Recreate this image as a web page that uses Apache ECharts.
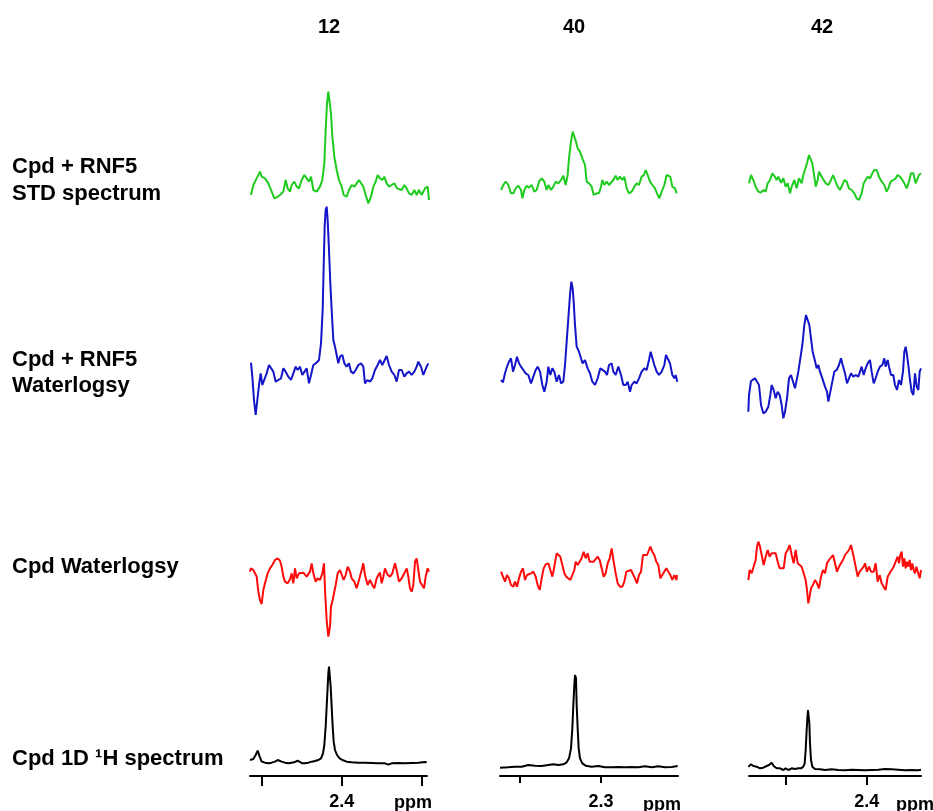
<!DOCTYPE html>
<html>
<head>
<meta charset="utf-8">
<script src="https://cdn.jsdelivr.net/npm/echarts@6/dist/echarts.min.js"></script>
<style>
html, body { margin: 0; background: #fff; }
#chart { width: 933px; height: 811px; }
</style>
</head>
<body>
<div id="chart"></div>
<script>
// compounds (columns) and experiments (rows)
const compounds = ['12', '40', '42'];
const rowLabels = [
    ['Cpd + RNF5', 'STD spectrum'],
    ['Cpd + RNF5', 'Waterlogsy'],
    ['Cpd Waterlogsy'],
    ['Cpd 1D \u00b9H spectrum']
];
const ppmTicks = [[2.5, 2.4, 2.3], [2.4, 2.3], [2.5, 2.4]];
const ppmLabels = [[2.4], [2.3], [2.4]];

// spectra as [point, intensity] pairs
const std12 = [[18,45],[25,75],[35,95],[45,115],[50,100],[60,95],[70,80],[80,55],[88,35],[95,38],[105,45],[115,55],[122,90],[128,65],[135,55],[140,75],[148,85],[155,70],[162,65],[170,90],[178,105],[185,95],[192,85],[198,100],[205,60],[215,55],[225,70],[232,90],[238,140],[242,240],[246,320],[250,355],[254,350],[258,290],[262,220],[268,160],[275,120],[282,90],[290,70],[296,45],[305,40],[312,60],[320,75],[328,70],[335,80],[342,90],[348,95],[355,70],[362,45],[370,20],[378,40],[385,70],[392,85],[398,105],[405,95],[412,90],[418,100],[425,80],[432,70],[440,75],[448,80],[456,65],[462,70],[470,60],[478,75],[485,65],[492,50],[500,45],[508,60],[515,45],[522,60],[530,45],[540,65],[548,70],[552,30]];
const std40 = [[18,60],[25,75],[32,85],[40,75],[48,50],[55,50],[62,65],[70,73],[78,60],[82,35],[88,60],[95,73],[102,67],[110,75],[118,55],[125,60],[132,85],[140,95],[148,85],[155,60],[160,75],[168,60],[175,70],[182,85],[190,80],[198,90],[205,103],[212,75],[218,105],[222,155],[228,205],[233,235],[238,240],[243,205],[248,185],[255,175],[262,155],[270,135],[275,85],[282,80],[290,70],[296,45],[305,50],[312,50],[318,70],[322,90],[328,75],[335,85],[342,75],[348,73],[355,90],[362,103],[368,90],[375,100],[382,90],[388,100],[395,65],[402,50],[410,55],[418,70],[425,80],[432,75],[440,100],[447,105],[452,120],[458,105],[465,85],[472,75],[480,65],[488,45],[493,35],[500,55],[508,75],[515,105],[520,110],[526,100],[532,70],[540,65],[545,50]];
const std42 = [[12,80],[18,105],[25,90],[32,70],[40,55],[48,52],[55,60],[62,55],[68,80],[75,90],[82,110],[88,102],[95,90],[100,100],[108,82],[115,95],[122,70],[128,80],[135,50],[140,70],[148,90],[155,65],[162,95],[170,80],[175,105],[180,110],[186,140],[192,165],[197,170],[202,140],[208,100],[212,70],[218,90],[222,115],[230,100],[236,105],[242,80],[250,75],[258,90],[264,105],[270,90],[278,70],[285,60],[292,75],[298,90],[305,85],[312,65],[320,60],[328,50],[335,35],[342,30],[350,50],[356,80],[362,85],[368,100],[375,95],[382,110],[388,120],[395,120],[402,100],[410,85],[418,75],[425,55],[430,65],[437,85],[445,90],[452,95],[458,105],[465,100],[472,90],[478,80],[485,65],[492,85],[498,110],[505,110],[512,80],[518,95],[522,105],[528,110]];

const wl12 = [[18,172],[22,130],[27,60],[32,15],[37,60],[42,105],[47,140],[52,105],[58,110],[65,140],[72,165],[78,160],[85,145],[92,115],[100,120],[108,125],[115,155],[122,145],[130,130],[138,120],[145,140],[152,160],[158,150],[165,160],[172,135],[178,140],[185,155],[192,110],[198,135],[205,165],[215,172],[222,180],[228,230],[233,330],[236,460],[239,580],[242,630],[245,640],[248,600],[252,510],[256,410],[260,330],[265,240],[270,220],[275,195],[280,170],[285,190],[292,195],[298,170],[305,160],[312,170],[318,145],[325,140],[332,150],[340,165],[348,170],[355,160],[360,110],[367,120],[375,115],[382,125],[390,150],[398,165],[405,180],[412,165],[418,170],[425,192],[432,165],[440,145],[448,135],[455,115],[462,150],[470,150],[478,130],[485,140],[492,145],[500,135],[508,145],[515,160],[520,175],[528,160],[535,135],[540,130],[545,160],[550,170]];
const wl40 = [[18,60],[24,53],[30,80],[36,100],[42,115],[48,125],[54,85],[60,105],[66,130],[72,110],[78,100],[85,90],[92,80],[100,75],[108,50],[115,70],[122,90],[128,100],[135,85],[142,45],[148,25],[155,55],[160,100],[166,75],[172,95],[178,85],[185,55],[192,75],[198,50],[205,55],[210,105],[215,175],[220,245],[225,315],[229,355],[233,335],[236,295],[240,225],[245,160],[252,145],[258,125],[263,110],[270,120],[278,95],[285,80],[292,55],[300,45],[308,65],[316,95],[322,100],[330,85],[336,75],[342,105],[350,110],[355,85],[362,75],[370,100],[378,75],[385,45],[392,45],[398,55],[405,25],[410,45],[418,55],[425,50],[432,65],[440,85],[448,95],[455,90],[462,120],[467,145],[472,140],[478,105],[485,85],[492,75],[500,85],[508,105],[513,135],[518,137],[525,110],[532,75],[538,65],[542,75],[547,55]];
const wl42 = [[10,40],[12,90],[18,132],[24,130],[30,140],[36,145],[42,120],[48,60],[55,35],[62,40],[70,55],[76,90],[80,120],[86,105],[92,80],[98,100],[104,90],[110,60],[115,20],[120,40],[126,80],[132,140],[138,150],[144,152],[150,110],[155,105],[160,160],[166,200],[172,240],[178,300],[183,330],[188,335],[193,300],[198,260],[203,220],[208,200],[215,170],[220,180],[225,160],[232,140],[240,115],[246,100],[250,70],[255,95],[262,130],[268,160],[275,165],[282,180],[288,200],[293,180],[300,155],[306,125],[312,140],[318,155],[325,145],[332,150],[340,145],[345,160],[350,175],[356,150],[362,170],[368,185],[375,195],[380,160],[386,125],[392,140],[398,160],[405,175],[412,180],[418,200],[422,175],[428,195],[432,175],[438,150],[445,150],[450,120],[456,105],[462,135],[468,120],[474,160],[478,220],[482,235],[486,210],[490,180],[495,135],[500,100],[505,90],[510,155],[515,115],[520,105],[524,160],[528,170]];

const cpdWl12 = [[15,220],[18,230],[25,225],[30,230],[35,205],[40,160],[45,135],[50,123],[55,165],[60,185],[68,215],[75,230],[82,240],[90,255],[98,260],[105,253],[110,235],[115,205],[120,190],[128,185],[135,197],[140,215],[145,185],[150,230],[155,200],[162,215],[168,210],[175,217],[180,220],[185,205],[190,210],[195,220],[200,245],[205,215],[212,190],[218,200],[225,195],[232,215],[237,245],[240,165],[245,75],[250,25],[255,55],[258,115],[263,135],[268,140],[272,180],[278,215],[285,225],[290,220],[296,195],[302,210],[308,235],[315,220],[320,200],[328,190],[335,170],[342,195],[350,225],[355,245],[360,210],[368,180],[375,195],[382,180],[388,170],[395,200],[400,210],[405,217],[410,185],[415,205],[420,230],[428,210],[435,205],[442,215],[450,245],[455,225],[462,190],[470,200],[478,215],[485,230],[490,205],[495,170],[500,160],[505,180],[510,250],[515,260],[520,225],[525,190],[530,195],[537,170],[542,205],[548,230],[552,220]];
const cpdWl40 = [[18,70],[24,75],[30,40],[36,60],[42,50],[48,30],[55,25],[60,40],[66,25],[72,50],[78,70],[84,80],[90,45],[96,60],[102,55],[108,65],[115,70],[122,55],[128,30],[134,15],[140,50],[146,80],[152,92],[160,95],[166,90],[172,55],[178,85],[185,125],[190,130],[196,115],[202,90],[208,65],[214,55],[220,60],[226,45],[232,40],[238,75],[242,100],[248,90],[254,95],[260,110],[266,130],[272,110],[278,125],[284,100],[290,105],[296,100],[302,100],[308,115],[314,105],[320,80],[326,55],[332,65],[338,95],[344,110],[350,140],[356,100],[362,65],[368,35],[375,25],[382,25],[388,40],[394,70],[400,75],[408,75],[414,70],[420,50],[426,35],[432,60],[438,70],[444,120],[450,125],[456,120],[462,135],[466,145],[472,130],[478,120],[484,100],[490,90],[496,50],[502,60],[508,60],[514,80],[520,70],[526,60],[532,45],[538,60],[544,45],[546,60]];
const cpdWl42 = [[10,90],[14,120],[20,110],[26,115],[32,150],[36,190],[40,205],[45,190],[50,165],[56,135],[62,160],[68,180],[74,160],[80,170],[86,165],[92,170],[98,145],[104,125],[110,130],[116,125],[122,170],[128,180],[134,195],[140,165],[146,140],[152,180],[158,140],[164,145],[170,130],[176,110],[182,90],[186,60],[190,20],[194,40],[198,65],[204,75],[210,90],[216,80],[222,65],[228,100],[234,120],[240,110],[246,140],[252,150],[258,155],[264,165],[270,140],[276,115],[282,130],[288,140],[294,150],[300,165],[306,170],[312,180],[318,195],[322,190],[326,160],[332,130],[338,100],[344,115],[350,120],[356,130],[360,140],[366,115],[372,130],[378,115],[386,115],[392,140],[398,85],[404,105],[410,80],[416,70],[422,60],[428,100],[434,110],[440,115],[446,130],[452,125],[458,160],[462,140],[466,165],[470,175],[474,130],[478,155],[482,125],[486,145],[490,130],[494,150],[498,120],[502,140],[506,120],[510,110],[514,130],[520,125],[524,95],[528,120]];

const h1d12 = [[15,153],[25,156],[32,168],[38,181],[44,163],[50,148],[60,145],[70,143],[80,145],[90,148],[98,153],[104,155],[110,148],[120,145],[130,143],[140,145],[150,147],[158,151],[164,145],[172,143],[180,143],[190,145],[200,148],[210,150],[220,153],[228,158],[234,173],[238,198],[242,253],[245,313],[248,373],[250,413],[252,433],[255,428],[257,373],[260,313],[263,253],[266,208],[270,183],[276,168],[284,158],[292,153],[305,148],[320,146],[340,145],[360,145],[380,144],[400,143],[420,143],[430,139],[440,143],[460,144],[480,143],[500,144],[520,145],[540,147],[545,146]];
const h1d40 = [[15,130],[40,131],[60,133],[80,133],[100,138],[120,136],[140,135],[160,138],[175,140],[190,138],[205,140],[215,146],[222,158],[228,188],[232,248],[235,318],[238,378],[240,408],[243,398],[245,318],[248,248],[251,188],[255,158],[262,143],[272,136],[290,133],[310,135],[330,131],[350,131],[370,132],[390,131],[410,132],[430,131],[450,134],[470,131],[490,134],[510,131],[530,132],[548,135]];
const h1d42 = [[10,133],[18,140],[25,135],[35,133],[45,128],[55,130],[65,135],[72,138],[80,145],[86,135],[95,128],[105,128],[115,123],[122,128],[130,123],[140,128],[150,126],[160,128],[168,128],[175,133],[179,143],[182,183],[185,243],[187,278],[189,303],[191,298],[193,263],[195,203],[198,153],[202,133],[210,126],[225,125],[240,123],[260,125],[280,123],[300,122],[320,124],[340,123],[360,122],[380,123],[400,124],[420,126],[440,125],[460,124],[480,122],[500,123],[520,122],[528,124]];

const GREEN = '#1fcb1f';
const BLUE = '#1414c8';
const RED = '#ff0a0a';
const BLACK = '#000000';

// each panel: spectrum, colour, box [left, top, width, height]; axes run 3 units per pixel
const panels = [
    { data: std12, color: GREEN, box: [245, 80, 190, 130] },
    { data: std40, color: GREEN, box: [495, 115, 190, 95] },
    { data: std42, color: GREEN, box: [745, 140, 180, 70] },
    { data: wl12, color: BLUE, box: [245, 200, 190, 220] },
    { data: wl40, color: BLUE, box: [495, 275, 190, 125] },
    { data: wl42, color: BLUE, box: [745, 305, 180, 120] },
    { data: cpdWl12, color: RED, box: [245, 530, 190, 115] },
    { data: cpdWl40, color: RED, box: [495, 535, 190, 60] },
    { data: cpdWl42, color: RED, box: [745, 530, 180, 80] },
    { data: h1d12, color: BLACK, box: [245, 660, 190, 151] },
    { data: h1d40, color: BLACK, box: [495, 665, 190, 146] },
    { data: h1d42, color: BLACK, box: [745, 700, 188, 111] }
];

// ppm scale under the 1D spectra: [left, axisY, width, ppmRight, ppmLeft, tickLen]
const ppmAxes = [
    [250, 776, 177, 2.2934, 2.5146, 10],
    [500, 779, 178, 2.2049, 2.4247, 7],
    [749, 781, 172, 2.3330, 2.5453, 9]
];

const grid = [], xAxis = [], yAxis = [], series = [];

panels.forEach((p, i) => {
    const [l, t, w, h] = p.box;
    grid.push({ left: l, top: t, width: w, height: h });
    xAxis.push({ gridIndex: i, type: 'value', min: 0, max: w * 3, show: false });
    yAxis.push({ gridIndex: i, type: 'value', min: 0, max: h * 3, show: false });
    series.push({
        type: 'line',
        xAxisIndex: i,
        yAxisIndex: i,
        data: p.data,
        showSymbol: false,
        lineStyle: { color: p.color, width: 2 },
        silent: true
    });
});

ppmAxes.forEach((a, k) => {
    const gi = panels.length + k;
    grid.push({ left: a[0], top: a[1] - 10, width: a[2], height: 10 });
    xAxis.push({
        gridIndex: gi,
        type: 'value',
        inverse: true,
        min: a[3],
        max: a[4],
        position: 'bottom',
        axisLine: { lineStyle: { color: '#000', width: 2 } },
        axisTick: { customValues: ppmTicks[k], length: a[5], lineStyle: { color: '#000', width: 2 } },
        axisLabel: {
            customValues: ppmLabels[k],
            formatter: v => v.toFixed(1),
            margin: 17,
            color: '#000',
            fontSize: 18,
            fontWeight: 'bold',
            fontFamily: 'Liberation Sans'
        },
        splitLine: { show: false }
    });
    yAxis.push({ gridIndex: gi, type: 'value', show: false });
});

const rowFont = 'bold 22px "Liberation Sans", Arial, sans-serif';
const headFont = 'bold 20px "Liberation Sans", Arial, sans-serif';
const graphic = [];
const headerX = [329, 574, 822];
compounds.forEach((c, k) => {
    graphic.push({ type: 'text', x: headerX[k], y: 27, style: { text: c, font: headFont, fill: '#000', align: 'center', verticalAlign: 'middle' } });
});
const rowY = [[167, 194], [360, 386], [567], [759]];
rowLabels.forEach((lines, r) => {
    lines.forEach((txt, j) => {
        graphic.push({ type: 'text', x: 12, y: rowY[r][j], style: { text: txt, font: rowFont, fill: '#000', verticalAlign: 'middle' } });
    });
});
const ppmX = [[413, 803], [662, 805], [915, 805]];
ppmX.forEach(pt => {
    graphic.push({ type: 'text', x: pt[0], y: pt[1], style: { text: 'ppm', font: 'bold 18px "Liberation Sans", Arial, sans-serif', fill: '#000', align: 'center', verticalAlign: 'middle' } });
});

const chart = echarts.init(document.getElementById('chart'));
chart.setOption({
    animation: false,
    backgroundColor: '#fff',
    grid: grid,
    xAxis: xAxis,
    yAxis: yAxis,
    series: series,
    graphic: graphic
});
</script>
</body>
</html>
